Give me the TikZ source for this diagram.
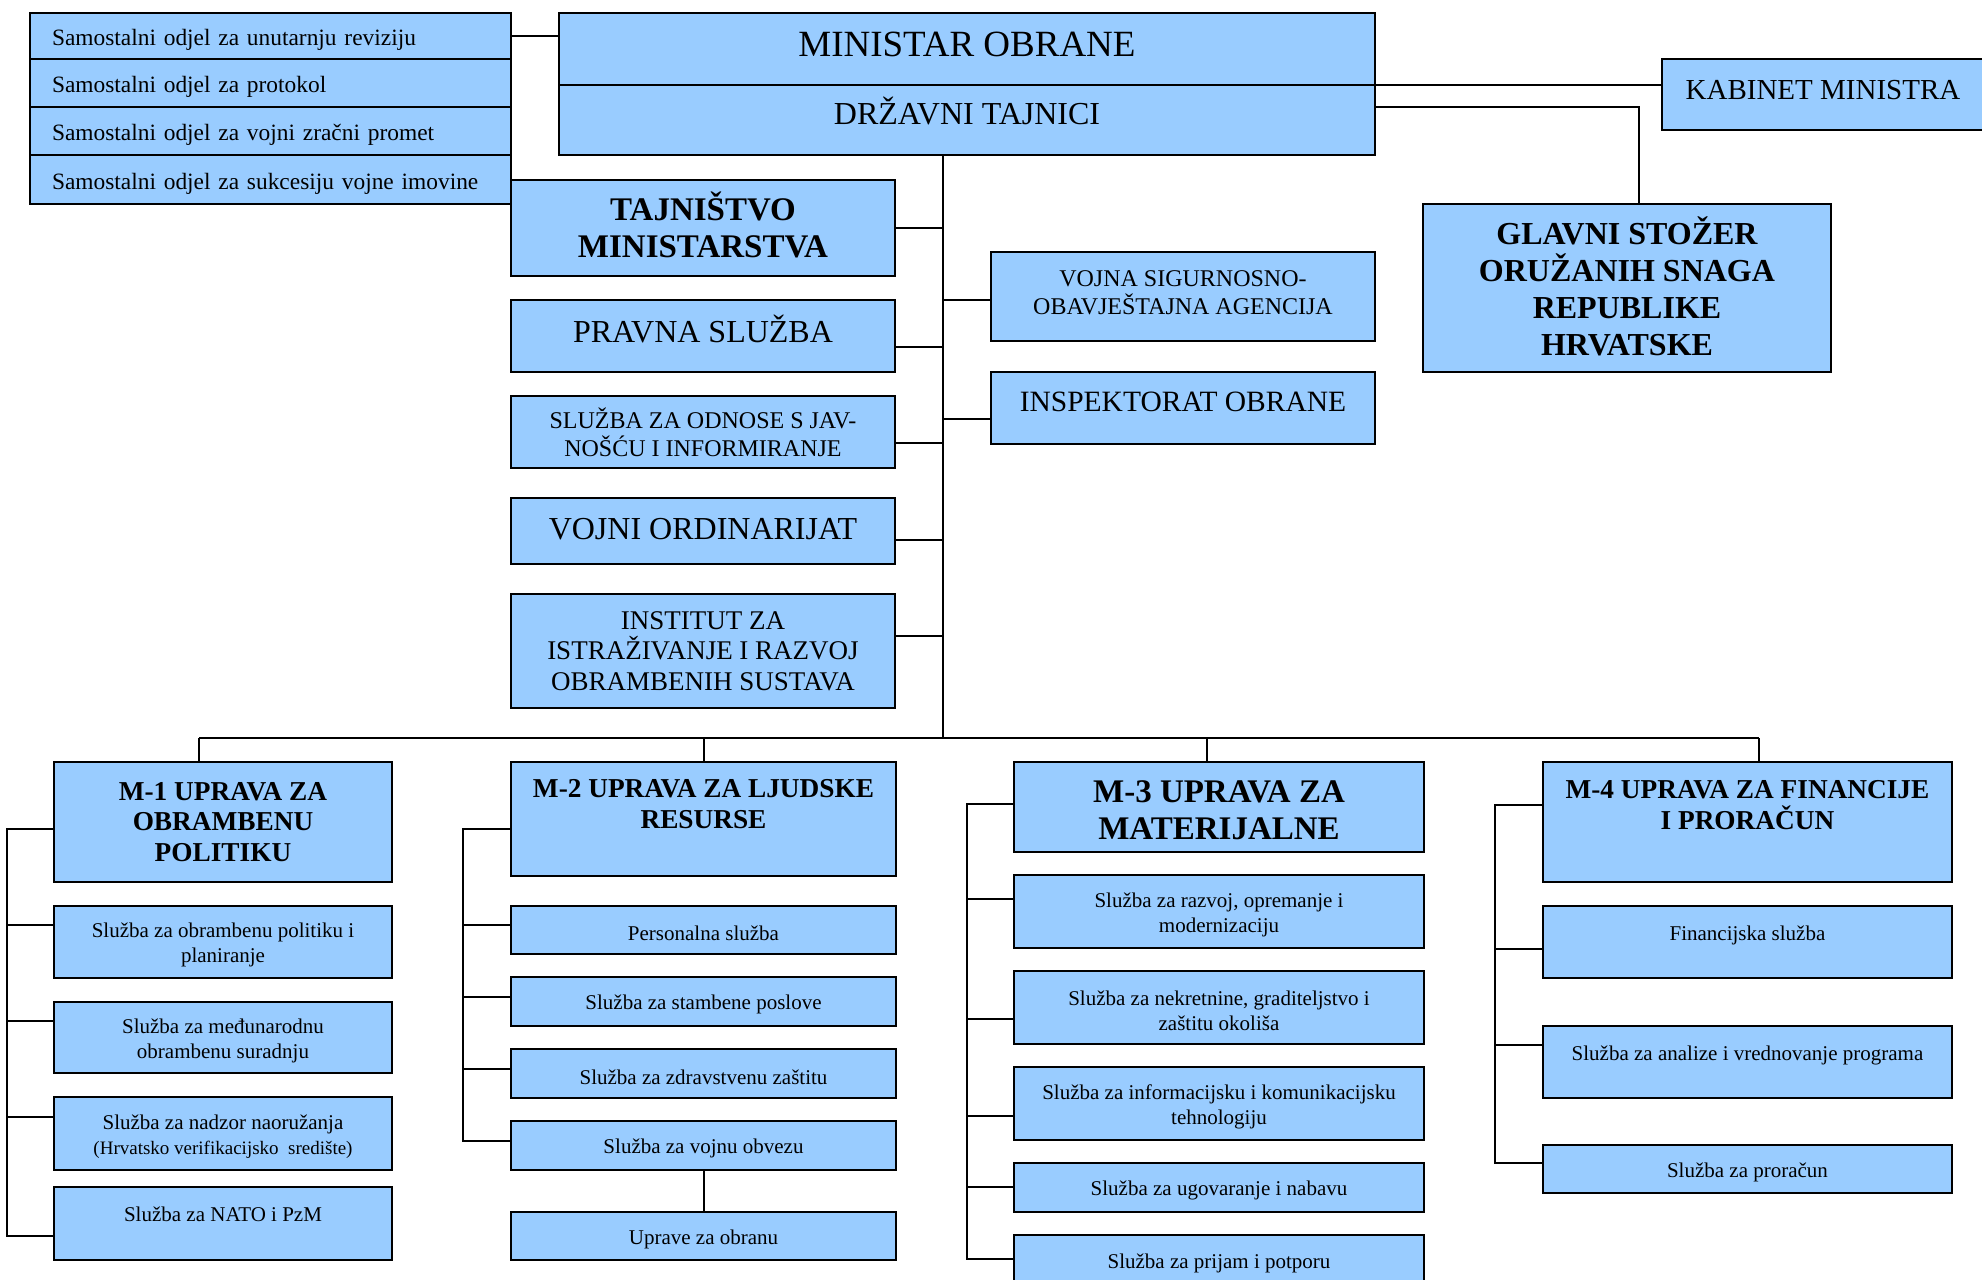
\documentclass[tikz,border=0pt]{standalone}
\usepackage{fontspec}
\setmainfont{Liberation Serif}
\definecolor{boxblue}{RGB}{153,204,255}
\newcommand\orgbox[7]{\node[box,#6,minimum width={(#4-#2)*1pt},minimum height={(#5-#3)*1pt}] (#1) at ({(#2+#4)/2},{(#3+#5)/2}) {#7};}
% top pad (pushes text down) and bottom pad (pushes text up)
\newcommand\tpad[1]{\rule{0pt}{#1}}
\newcommand\bpad[1]{\rule[-#1]{0pt}{#1}}
\newcommand\tsub{\rule{0pt}{21.3pt}}
\begin{document}
\begin{tikzpicture}[x=1pt,y=-1pt,
  box/.style={draw=black,line width=2.6pt,fill=boxblue,inner sep=0pt,outer sep=0pt,align=center},
  conn/.style={line width=2pt,draw=black},
  sam/.style={text width=437pt,align=left,font=\fontsize{23.4}{28}\selectfont},
  fmin/.style={font=\fontsize{37}{44}\selectfont},
  fdt/.style={font=\fontsize{32}{38}\selectfont},
  fkab/.style={font=\fontsize{29}{34}\selectfont},
  fbig/.style={font=\fontsize{32}{37}\selectfont},
  fbigb/.style={font=\bfseries\fontsize{32}{37}\selectfont},
  ftm/.style={font=\bfseries\fontsize{33}{37}\selectfont},
  fmed/.style={font=\fontsize{24}{28}\selectfont},
  fins/.style={font=\fontsize{27}{30.5}\selectfont},
  fio/.style={font=\fontsize{29.5}{34}\selectfont},
  fm/.style={font=\bfseries\fontsize{27.3}{30.5}\selectfont},
  fm3/.style={font=\bfseries\fontsize{33}{37}\selectfont},
  fsub/.style={font=\fontsize{21}{25}\selectfont}]
\fill[white] (0,0) rectangle (1982,1280);
\useasboundingbox (0,0) rectangle (1982,1280);
% top left
\orgbox{s1}{30}{13}{511}{59}{sam}{\tpad{24pt}\mbox{Samostalni odjel za unutarnju reviziju}}
\orgbox{s2}{30}{59}{511}{107}{sam}{\tpad{24pt}\mbox{Samostalni odjel za protokol}}
\orgbox{s3}{30}{107}{511}{155}{sam}{\tpad{24pt}\mbox{Samostalni odjel za vojni zračni promet}}
\orgbox{s4}{30}{155}{511}{204}{sam}{\tpad{24pt}\mbox{Samostalni odjel za sukcesiju vojne imovine}}
% minister
\orgbox{mo}{559}{13}{1375}{85}{fmin}{MINISTAR OBRANE\bpad{10pt}}
\orgbox{dt}{559}{85}{1375}{155}{fdt}{DRŽAVNI TAJNICI\bpad{18pt}}
\orgbox{kb}{1662}{59}{1984}{130}{fkab}{KABINET MINISTRA\bpad{10pt}}
\orgbox{gs}{1423}{204}{1831}{372}{fbigb}{GLAVNI STOŽER\\ORUŽANIH SNAGA\\REPUBLIKE\\HRVATSKE\bpad{3pt}}
% left column
\orgbox{tm}{511}{180}{895}{276}{ftm}{TAJNIŠTVO\\MINISTARSTVA\bpad{6pt}}
\orgbox{ps}{511}{300}{895}{372}{fbig}{PRAVNA SLUŽBA\bpad{15pt}}
\orgbox{sj}{511}{396}{895}{468}{fmed}{SLUŽBA ZA ODNOSE S JAV-\\NOŠĆU I INFORMIRANJE}
\orgbox{vo}{511}{498}{895}{564}{fbig}{VOJNI ORDINARIJAT\bpad{5pt}}
\orgbox{ins}{511}{594}{895}{708}{fins}{INSTITUT ZA\\ISTRAŽIVANJE I RAZVOJ\\OBRAMBENIH SUSTAVA}
% right of trunk
\orgbox{va}{991}{252}{1375}{341}{fmed}{VOJNA SIGURNOSNO-\\OBAVJEŠTAJNA AGENCIJA\bpad{8pt}}
\orgbox{io}{991}{372}{1375}{444}{fio}{INSPEKTORAT OBRANE\bpad{12pt}}
% M-1
\orgbox{m1}{54}{762}{392}{882}{fm}{M-1 UPRAVA ZA\\OBRAMBENU\\POLITIKU}
\orgbox{a1}{54}{906}{392}{978}{fsub}{\tsub Služba za obrambenu politiku i\\planiranje}
\orgbox{a2}{54}{1002}{392}{1073}{fsub}{\tsub Služba za međunarodnu\\obrambenu suradnju}
\orgbox{a3}{54}{1097}{392}{1170}{fsub}{\tsub Služba za nadzor naoružanja\\{\fontsize{19}{23}\selectfont (Hrvatsko verifikacijsko\ \ središte)}}
\orgbox{a4}{54}{1187}{392}{1260}{fsub}{\tsub Služba za NATO i PzM\\\mbox{}}
% M-2
\orgbox{m2}{511}{762}{896}{876}{fm}{M-2 UPRAVA ZA LJUDSKE\\RESURSE\\\mbox{}}
\orgbox{b1}{511}{906}{896}{954}{fsub}{\tsub Personalna služba}
\orgbox{b2}{511}{977}{896}{1026}{fsub}{\tsub Služba za stambene poslove}
\orgbox{b3}{511}{1049}{896}{1098}{fsub}{\tsub Služba za zdravstvenu zaštitu}
\orgbox{b4}{511}{1121}{896}{1170}{fsub}{\tsub Služba za vojnu obvezu}
\orgbox{b5}{511}{1212}{896}{1260}{fsub}{\tsub Uprave za obranu}
% M-3
\orgbox{m3}{1014}{762}{1424}{852}{fm3}{\tpad{28.5pt}M-3 UPRAVA ZA\\MATERIJALNE}
\orgbox{c1}{1014}{875}{1424}{948}{fsub}{\tsub Služba za razvoj, opremanje i\\modernizaciju}
\orgbox{c2}{1014}{971}{1424}{1044}{fsub}{\tsub Služba za nekretnine, graditeljstvo i\\zaštitu okoliša}
\orgbox{c3}{1014}{1067}{1424}{1140}{fsub}{\tsub Služba za informacijsku i komunikacijsku\\tehnologiju}
\orgbox{c4}{1014}{1163}{1424}{1212}{fsub}{\tsub Služba za ugovaranje i nabavu}
\orgbox{c5}{1014}{1235}{1424}{1286}{fsub}{\tsub Služba za prijam i potporu}
% M-4
\orgbox{m4}{1543}{762}{1952}{882}{fm}{M-4 UPRAVA ZA FINANCIJE\\I PRORAČUN\\\mbox{}\bpad{4pt}}
\orgbox{d1}{1543}{906}{1952}{978}{fsub}{\tsub Financijska služba\\\mbox{}}
\orgbox{d2}{1543}{1026}{1952}{1098}{fsub}{\tsub Služba za analize i vrednovanje programa\\\mbox{}}
\orgbox{d3}{1543}{1145}{1952}{1193}{fsub}{\tsub Služba za proračun}
% connectors top
\draw[conn] (s1.east) -- (s1.east -| mo.west);
\draw[conn] (mo.south east) -- (mo.south east -| kb.west);
\coordinate (gsBend) at (1639,107);
\draw[conn] (dt.east |- gsBend) -- (gsBend) -- (gsBend |- gs.north);
\coordinate (busC) at (943,738);
\draw[conn] (dt.south -| busC) -- (busC);
\foreach \n/\y in {tm/228,ps/347,sj/443,vo/540,ins/636}
  \draw[conn] (\n.east |- 0,\y) -- (busC |- 0,\y);
\foreach \n/\y in {va/300,io/419}
  \draw[conn] (\n.west |- 0,\y) -- (busC |- 0,\y);
% bus
\coordinate (busL) at (199,738);
\coordinate (busR) at (1759,738);
\coordinate (bus3) at (1207,738);
\draw[conn] (busL) -- (busR);
\draw[conn] (busL) -- (busL |- m1.north);
\draw[conn] (m2.north |- busC) -- (m2.north);
\draw[conn] (bus3) -- (bus3 |- m3.north);
\draw[conn] (busR) -- (busR |- m4.north);
% M-1 bracket
\draw[conn] (m1.west |- 0,829) -- (7,829) -- (7,1236) -- (a4.west |- 0,1236);
\foreach \n/\y in {a1/925,a2/1021,a3/1117} \draw[conn] (7,\y) -- (\n.west |- 0,\y);
% M-2 bracket
\draw[conn] (m2.west |- 0,829) -- (463,829) -- (463,1141) -- (b4.west |- 0,1141);
\foreach \n/\y in {b1/925,b2/997,b3/1069} \draw[conn] (463,\y) -- (\n.west |- 0,\y);
\draw[conn] (b4.south) -- (b5.north);
% M-3 bracket
\draw[conn] (m3.west |- 0,804) -- (967,804) -- (967,1259) -- (c5.west |- 0,1259);
\foreach \n/\y in {c1/899,c2/1019,c3/1116,c4/1187} \draw[conn] (967,\y) -- (\n.west |- 0,\y);
% M-4 bracket
\draw[conn] (m4.west |- 0,805) -- (1495,805) -- (1495,1163) -- (d3.west |- 0,1163);
\foreach \n/\y in {d1/949,d2/1045} \draw[conn] (1495,\y) -- (\n.west |- 0,\y);
\end{tikzpicture}
\end{document}
